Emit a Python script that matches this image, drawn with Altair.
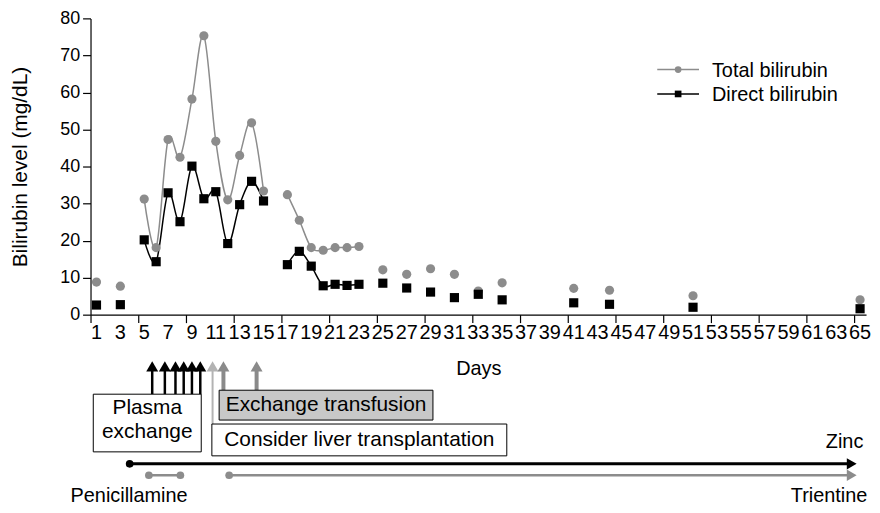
import altair as alt
import pandas as pd

FONT = "Liberation Sans"

# ---- data ----
days = [1, 3, 5, 6, 7, 8, 9, 10, 11, 12, 13, 14, 15, 17, 18, 19, 20, 21, 22, 23,
        25, 27, 29, 31, 33, 35, 41, 44, 51, 65]
total = [8.8, 7.7, 31.2, 18.1, 47.3, 42.5, 58.2, 75.3, 46.8, 31.0, 43.0, 51.8, 33.4,
         32.4, 25.5, 18.1, 17.4, 18.1, 18.1, 18.4,
         12.1, 10.9, 12.4, 10.9, 6.4, 8.6, 7.1, 6.6, 5.1, 4.0]
direct = [2.6, 2.7, 20.2, 14.3, 32.9, 25.1, 40.1, 31.3, 33.2, 19.2, 29.7, 36.0, 30.7,
          13.5, 17.1, 13.1, 7.8, 8.2, 7.9, 8.2,
          8.5, 7.2, 6.1, 4.6, 5.5, 4.0, 3.2, 2.8, 2.0, 1.6]
series_names = ["Total bilirubin", "Direct bilirubin"]
series_colors = ["#8c8c8c", "#000000"]
series_shapes = ["circle", "square"]
day_labels = list(range(1, 66, 2))          # labelled days 1,3,...,65
day_ticks = [d + 0.5 for d in range(66)]    # tick marks between days

# treatment annotations (days)
plasma_days = [5.67, 6.73, 7.62, 8.31, 9.0, 9.7]
liver_day = [10.73]
exchange_days = [11.64, 14.42]
plasma_box = [0.73, 9.78]
exchange_box = [11.28, 29.2]
liver_box = [10.67, 35.39]
zinc_span = [3.78, 64.3]
penicillamine_span = [5.39, 8.03]
trientine_span = [12.12, 64.3]
drug_labels = ["Zinc", "Trientine", "Penicillamine"]
drug_label_days = [63.7, 62.4, 3.73]

LEFT, TOP, W, H = 83, 9, 780, 298


def py(page_y):
    return page_y - 8 - TOP


def px(page_x):
    return page_x - 8 - LEFT


rows = []
for name, vals in zip(series_names, [total, direct]):
    seg, prev = 0, None
    for d, v in zip(days, vals):
        if prev is not None and d - prev != 1:
            seg += 1
        rows.append(dict(day=d, value=v, series=name, seg=seg))
        prev = d
df = pd.DataFrame(rows)

x_scale = alt.Scale(domain=[0.5, 65.5], nice=False, zero=False)
y_scale = alt.Scale(domain=[0, 80], nice=False)
color_scale = alt.Scale(domain=series_names, range=series_colors)
shape_scale = alt.Scale(domain=series_names, range=series_shapes)

x_axis = alt.Axis(
    values=day_ticks, labels=False, tickSize=8, grid=False,
    title="Days", titlePadding=36,
)
y_axis = alt.Axis(
    values=list(range(0, 81, 10)), tickSize=8, labelPadding=3, grid=False,
    labelOverlap=False, labelFontSize=18,
    title="Bilirubin level (mg/dL)", titlePadding=29, titleFontSize=21,
)

X = alt.X("day:Q", scale=x_scale, axis=x_axis)
Y = alt.Y("value:Q", scale=y_scale, axis=y_axis)

lines = alt.Chart(df).mark_line(interpolate="cardinal", strokeWidth=1.5).encode(
    x=X, y=Y,
    color=alt.Color("series:N", scale=color_scale, legend=None),
    detail="seg:N",
)
points = alt.Chart(df).mark_point(filled=True, opacity=1, size=85).encode(
    x=X, y=Y,
    color=alt.Color("series:N", scale=color_scale, legend=None),
    shape=alt.Shape("series:N", scale=shape_scale, legend=None),
)

# x tick labels (odd days) drawn through the x scale
xlabels = alt.Chart(pd.DataFrame({"day": day_labels})).mark_text(
    baseline="middle", align="center", font=FONT, fontSize=20, color="#000").encode(
    x="day:Q", y=alt.value(H + 18), text="day:Q")

layers = [lines, points, xlabels]

# ---- legend (manual) ----
for i, (name, col, shp) in enumerate(zip(series_names, series_colors, series_shapes)):
    ly = py(68.5 + i * 24.5)
    ldf = pd.DataFrame({"label": [name]})
    layers.append(alt.Chart(ldf).mark_rule(color=col, strokeWidth=1.5).encode(
        x=alt.value(px(661)), x2=alt.value(px(703)), y=alt.value(ly)))
    layers.append(alt.Chart(ldf).mark_point(filled=True, opacity=1, color=col, shape=shp,
                                            size=45).encode(
        x=alt.value(px(682)), y=alt.value(ly)))
    layers.append(alt.Chart(ldf).mark_text(align="left", baseline="middle", font=FONT,
                                           fontSize=20, color="#000").encode(
        x=alt.value(px(716)), y=alt.value(ly + 1), text="label:N"))


# ---- arrows ----
def arrows(dlist, color, width, y_bottom):
    adf = pd.DataFrame({"day": dlist})
    shaft = alt.Chart(adf).mark_rule(color=color, strokeWidth=width).encode(
        x="day:Q", y=alt.value(py(368)), y2=alt.value(py(y_bottom)))
    head = alt.Chart(adf).mark_point(shape="triangle-up", filled=True, opacity=1,
                                     color=color, size=144).encode(
        x="day:Q", y=alt.value(py(367)))
    return [shaft, head]


layers += arrows(liver_day, "#b3b3b3", 2, 426)
layers += arrows(exchange_days, "#8a8a8a", 4, 391)
layers += arrows(plasma_days, "#000000", 2.5, 395)


# ---- boxes ----
def box(span, y1, y2, fill, label, ty, lb=None):
    bdf = pd.DataFrame({"a": [span[0]], "b": [span[1]], "label": [label],
                        "mid": [(span[0] + span[1]) / 2]})
    rect = alt.Chart(bdf).mark_rect(fill=fill, stroke="#000", strokeWidth=1).encode(
        x="a:Q", x2="b:Q", y=alt.value(py(y1)), y2=alt.value(py(y2)))
    kw = dict(align="center", baseline="middle", font=FONT, fontSize=21, color="#000")
    if lb:
        kw.update(lineBreak=lb, lineHeight=24)
    txt = alt.Chart(bdf).mark_text(**kw).encode(
        x="mid:Q", y=alt.value(py(ty)), text="label:N")
    return [rect, txt]


layers += box(plasma_box, 395, 453, "#ffffff", "Plasma\nexchange", 409, "\n")
layers += box(exchange_box, 391, 421, "#c8c8c8", "Exchange transfusion", 406)
layers += box(liver_box, 425, 457, "#ffffff", "Consider liver transplantation", 441.5)


# ---- drug timelines ----
def timeline(span, color, width, y, arrow=True, end_dot=False):
    tdf = pd.DataFrame({"a": [span[0]], "b": [span[1]]})
    out = [alt.Chart(tdf).mark_rule(color=color, strokeWidth=width).encode(
        x="a:Q", x2="b:Q", y=alt.value(py(y)))]
    out.append(alt.Chart(tdf).mark_circle(color=color, opacity=1, size=60).encode(
        x="a:Q", y=alt.value(py(y))))
    if end_dot:
        out.append(alt.Chart(tdf).mark_circle(color=color, opacity=1, size=60).encode(
            x="b:Q", y=alt.value(py(y))))
    if arrow:
        out.append(alt.Chart(tdf).mark_point(shape="triangle-right", filled=True,
                                             opacity=1, color=color, size=130).encode(
            x="b:Q", y=alt.value(py(y))))
    return out


layers += timeline(zinc_span, "#000000", 3, 465)
layers += timeline(penicillamine_span, "#8c8c8c", 2.5, 476.5, arrow=False, end_dot=True)
layers += timeline(trientine_span, "#8c8c8c", 2.5, 476.5)

drug_df = pd.DataFrame({"label": drug_labels, "day": drug_label_days})
for lab, yy in zip(drug_labels, [443, 497, 497]):
    layers.append(alt.Chart(drug_df[drug_df["label"] == lab]).mark_text(
        align="center", baseline="middle", font=FONT, fontSize=20, color="#000").encode(
        x="day:Q", y=alt.value(py(yy)), text="label:N"))

chart = alt.layer(*layers).properties(
    width=W, height=H,
    autosize=alt.AutoSizeParams(type="none"),
    padding={"left": LEFT, "top": TOP, "right": 6, "bottom": 497 - TOP - H},
).configure_view(stroke=None).configure_axis(
    labelFont=FONT, titleFont=FONT, labelFontSize=20, titleFontSize=20,
    labelColor="#000", titleColor="#000", titleFontWeight="normal",
    domainColor="#000", tickColor="#000", domainWidth=1.2, tickWidth=1.2,
    labelOverlap=False,
)

chart.save("out.html", embed_options={"renderer": "svg", "actions": False})
